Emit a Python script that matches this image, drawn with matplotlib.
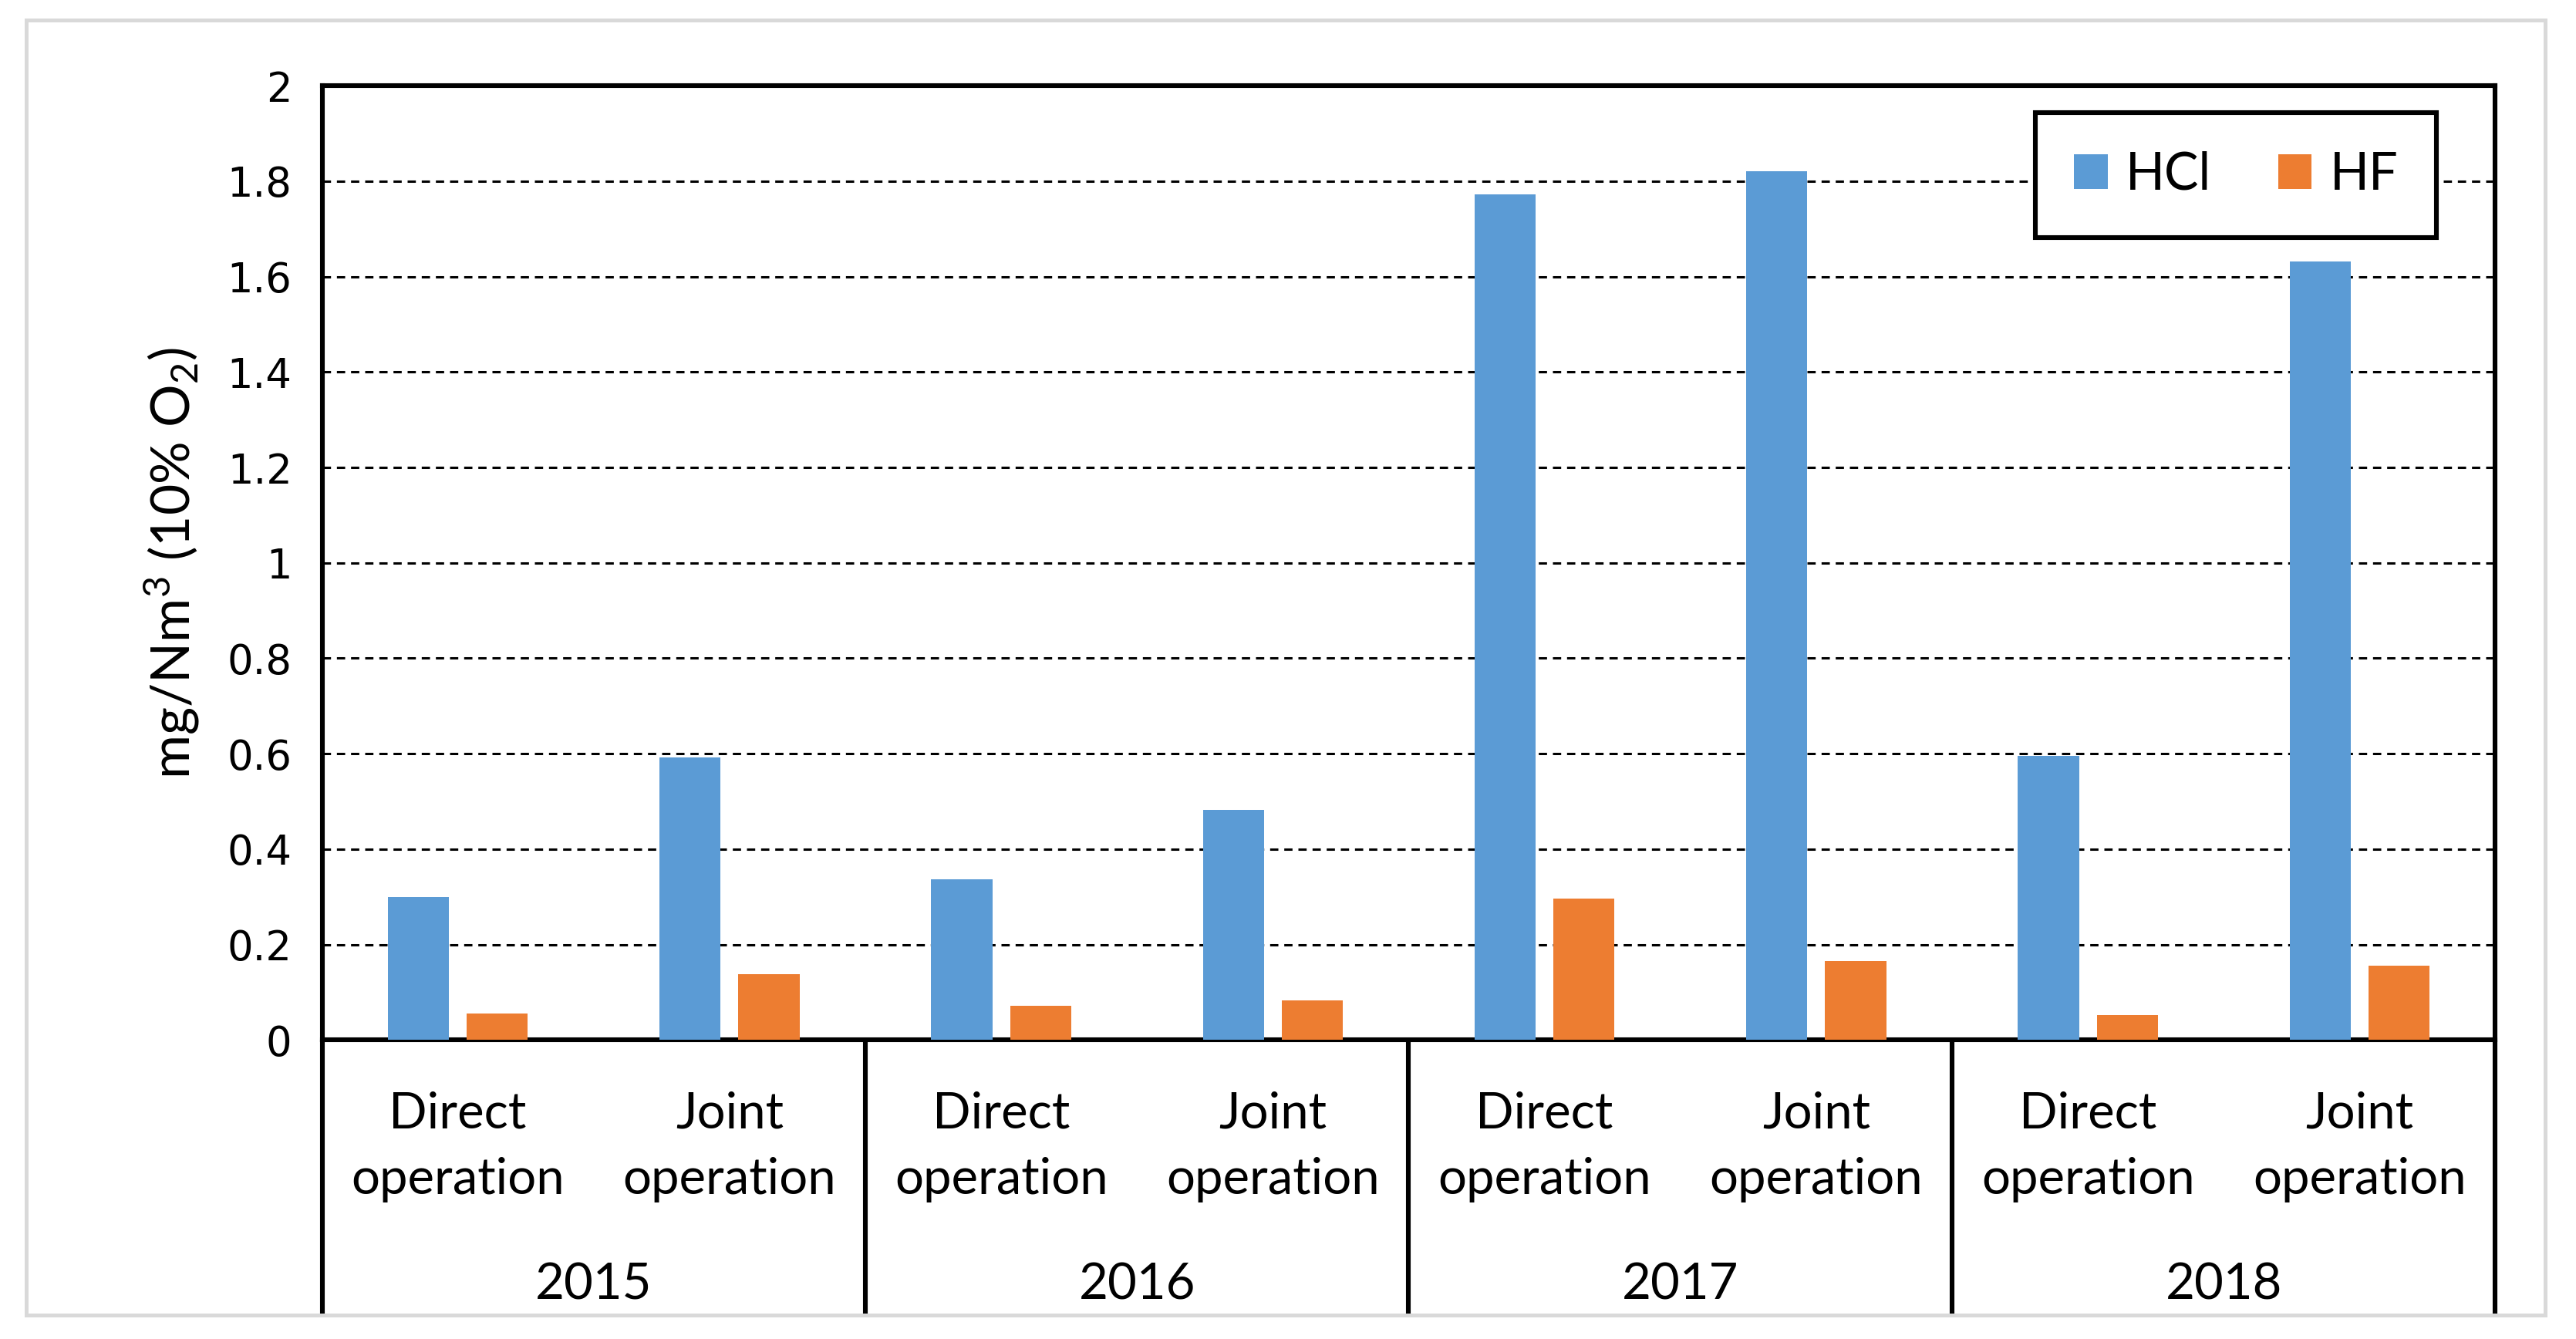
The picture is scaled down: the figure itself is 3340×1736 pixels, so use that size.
import matplotlib
matplotlib.use("Agg")
import matplotlib.pyplot as plt
from matplotlib.patches import Rectangle
import numpy as np

years = ["2015", "2016", "2017", "2018"]
modes = ["Direct\noperation", "Joint\noperation"]
hcl = [0.30, 0.592, 0.337, 0.482, 1.773, 1.821, 0.596, 1.632]
hf = [0.055, 0.138, 0.072, 0.083, 0.296, 0.165, 0.052, 0.155]
yticks = [0, 0.2, 0.4, 0.6, 0.8, 1, 1.2, 1.4, 1.6, 1.8, 2]
ytick_labels = ["0", "0.2", "0.4", "0.6", "0.8", "1", "1.2", "1.4", "1.6", "1.8", "2"]

plt.rcParams['mathtext.fontset'] = 'custom'
plt.rcParams['mathtext.rm'] = 'Lato'
plt.rcParams['mathtext.it'] = 'Lato:italic'

fig = plt.figure(figsize=(16.7, 8.68), dpi=200)
ax = fig.add_axes([0.125, 0.2233, 0.9687 - 0.125, 0.936 - 0.2233])

x = np.arange(len(hcl))
w = 0.225
off = 0.145
ax.bar(x - off, hcl, width=w, color="#5B9BD5", label="HCl", zorder=3)
ax.bar(x + off, hf, width=w, color="#ED7D31", label="HF", zorder=3)

ax.set_xlim(-0.5, len(hcl) - 0.5)
ax.set_ylim(0, 2)
ax.set_yticks(yticks)
ax.set_yticklabels(ytick_labels, fontsize=19, family="DejaVu Sans")
ax.tick_params(axis='y', length=0, pad=14)
ax.set_xticks([])
ax.yaxis.grid(True, linestyle=(0, (3.5, 2.5)), color="black", linewidth=1.1, zorder=0)
for s in ax.spines.values():
    s.set_linewidth(2.2)
    s.set_color("black")

ax.set_ylabel(r"mg/Nm$^3$ (10% O$_2$)", fontsize=25, family="Lato", labelpad=12)

# category table below the axis
bottom = -0.2874
trans = ax.get_xaxis_transform()
for b in [-0.5, 1.5, 3.5, 5.5, 7.5]:
    ax.plot([b, b], [0, bottom], transform=trans, color="black", lw=2.2,
            clip_on=False, solid_capstyle="butt")
for i in range(len(hcl)):
    ax.text(i, -0.112, modes[i % 2], transform=trans, ha="center", va="center",
            fontsize=23.5, family="Lato", linespacing=1.55)
for j, yr in enumerate(years):
    ax.text(2 * j + 0.5, -0.257, yr, transform=trans, ha="center", va="center",
            fontsize=23.5, family="Lato")

leg = ax.legend(loc="upper right", bbox_to_anchor=(0.973, 0.972), ncol=2,
                prop={"family": "Lato", "size": 24},
                frameon=True, fancybox=False, handlelength=0.65, handleheight=0.65,
                columnspacing=1.3, handletextpad=0.35, borderpad=0.75,
                borderaxespad=0)
leg.get_frame().set_edgecolor("black")
leg.get_frame().set_linewidth(2.2)
leg.get_frame().set_facecolor("white")
leg.get_frame().set_alpha(1)
leg.set_zorder(5)

fig.patches.append(Rectangle((0.0102, 0.018), 0.9879 - 0.0102, 0.9853 - 0.018,
                             transform=fig.transFigure, fill=False,
                             edgecolor="#d9d9d9", linewidth=1.8))

fig.savefig("out.png", dpi=200)
